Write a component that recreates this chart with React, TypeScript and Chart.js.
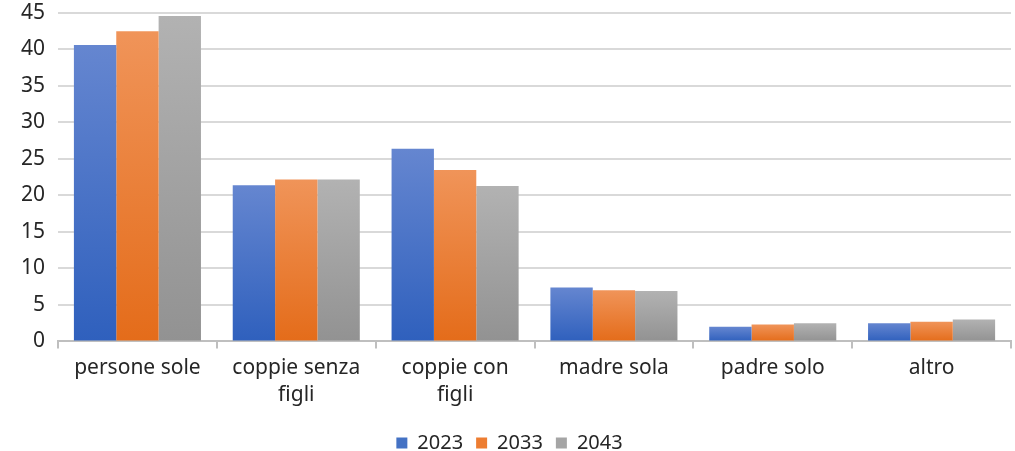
import React, { useEffect, useRef } from "react";
import { Chart, registerables } from "chart.js";

Chart.register(...registerables);

const categories: (string | string[])[] = [
  "persone sole",
  ["coppie senza", "figli"],
  ["coppie con", "figli"],
  "madre sola",
  "padre solo",
  "altro",
];
const seriesNames = ["2023", "2033", "2043"];
const values2023 = [40.6, 21.4, 26.4, 7.4, 2.0, 2.5];
const values2033 = [42.5, 22.2, 23.5, 7.0, 2.3, 2.7];
const values2043 = [44.6, 22.2, 21.3, 6.9, 2.5, 3.0];
const yTicks = [0, 5, 10, 15, 20, 25, 30, 35, 40, 45];

const colorsTop = ["#6586D0", "#F09459", "#B2B2B2"];
const colorsBottom = ["#2F60BD", "#E46C1A", "#929292"];
const legendColors = ["#4472C4", "#ED7D31", "#A5A5A5"];

function gradientFor(i: number) {
  return (ctx: any) => {
    const chart = ctx.chart;
    const area = chart.chartArea;
    if (!area || ctx.type !== "data") return legendColors[i];
    const ys = chart.scales.y;
    const v = ctx.raw as number;
    const top = ys.getPixelForValue(v);
    const base = ys.getPixelForValue(0);
    if (!isFinite(top) || !isFinite(base) || top === base) return legendColors[i];
    const g = chart.ctx.createLinearGradient(0, top, 0, base);
    g.addColorStop(0, colorsTop[i]);
    g.addColorStop(1, colorsBottom[i]);
    return g;
  };
}

export default function App() {
  const ref = useRef<HTMLCanvasElement | null>(null);
  useEffect(() => {
    document.body.style.margin = "0";
    if (!ref.current) return;
    const font = "'Noto Sans', 'DejaVu Sans', sans-serif";
    const data = [values2023, values2033, values2043];
    const chart = new Chart(ref.current, {
      type: "bar",
      data: {
        labels: categories as any,
        datasets: seriesNames.map((name, i) => ({
          label: name,
          data: data[i],
          backgroundColor: gradientFor(i),
          borderWidth: 0,
          categoryPercentage: 0.8,
          barPercentage: 1.0,
        })),
      },
      options: {
        animation: false,
        responsive: false,
        layout: { padding: { top: 13, right: 4, left: 8, bottom: 0 } },
        plugins: {
          tooltip: { enabled: false },
          legend: {
            position: "bottom",
            maxHeight: 31,
            labels: {
              color: "#262626",
              font: { family: font, size: 20 },
              boxWidth: 11,
              boxHeight: 11,
              padding: 13,
              generateLabels: () =>
                seriesNames.map((n, i) => ({
                  text: n,
                  fillStyle: legendColors[i],
                  strokeStyle: legendColors[i],
                  lineWidth: 0,
                  datasetIndex: i,
                  hidden: false,
                  fontColor: "#262626",
                })) as any,
            },
          },
        },
        scales: {
          x: {
            offset: true,
            grid: {
              offset: true,
              drawOnChartArea: false,
              drawTicks: true,
              tickLength: 7,
              color: "#BFBFBF",
              lineWidth: 2,
            },
            border: { display: true, color: "#BFBFBF", width: 2 },
            ticks: {
              color: "#262626",
              font: { family: font, size: 21, lineHeight: 1.3 },
              padding: 6,
              maxRotation: 0,
              autoSkip: false,
            },
            afterFit: (axis: any) => {
              axis.height = axis.height + 5;
            },
          },
          y: {
            min: 0,
            max: 45,
            afterBuildTicks: (axis: any) => {
              axis.ticks = yTicks.map((v) => ({ value: v }));
            },
            afterFit: (axis: any) => {
              axis.paddingTop = 0;
              axis.paddingBottom = 0;
            },
            grid: { color: "#D9D9D9", lineWidth: 2, drawTicks: false },
            border: { display: false },
            ticks: {
              color: "#262626",
              font: { family: font, size: 21 },
              padding: 13,
            },
          },
        },
      },
    });
    return () => chart.destroy();
  }, []);
  return (
    <div style={{ position: "absolute", left: 0, top: 0, width: 1015, height: 451 }}>
      <canvas ref={ref} width={1015} height={451} style={{ display: "block" }} />
    </div>
  );
}
